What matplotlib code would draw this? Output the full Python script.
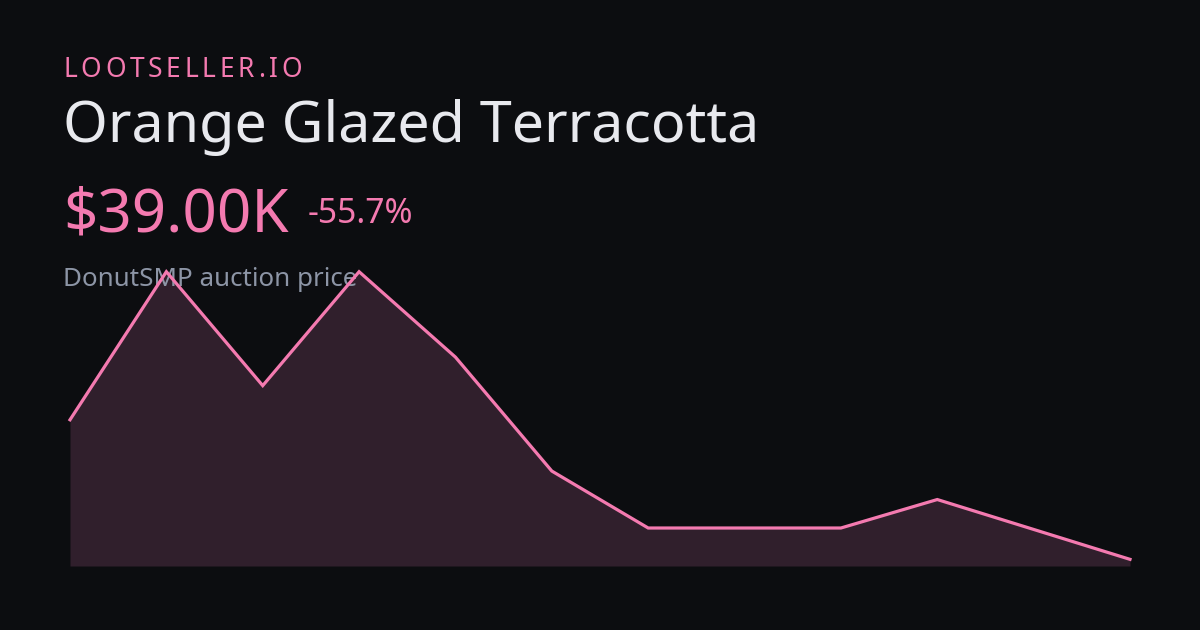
import numpy as np
import matplotlib.pyplot as plt

# price history (thousands)
days = list(range(12))
prices = [88.0, 140.0, 100.0, 140.0, 110.0, 70.0, 50.0, 50.0, 50.0, 60.0, 49.5, 39.0]

brand = "LOOTSELLER.IO"
item = "Orange Glazed Terracotta"
price_txt = "$39.00K"
change_txt = "-55.7%"
subtitle = "DonutSMP auction price"

W, H = 1200, 630
BG = "#0c0d10"
PINK = "#f47ab0"
FILL = "#301f2c"
TITLE_C = "#e8e9ee"
SUB_C = "#8d95a6"

plt.rcParams['font.family'] = ['Noto Sans', 'DejaVu Sans']

fig = plt.figure(figsize=(W / 100, H / 100), dpi=100, facecolor=BG)
ax = fig.add_axes([70 / W, 64 / H, 1060 / W, 294.3 / H])
ax.set_facecolor(BG)
ax.axis('off')

ymin = min(prices) * 0.94
ax.set_xlim(days[0], days[-1])
ax.set_ylim(ymin, max(prices))
ax.fill_between(days, prices, ymin, color=FILL, lw=0, zorder=1)
ax.plot(days, prices, color=PINK, lw=2.3, zorder=3, clip_on=False,
        solid_joinstyle='miter')

fig.canvas.draw()
renderer = fig.canvas.get_renderer()


def place(s, x_px, base_px, width_px, color, size0):
    # put text at pixel position, then scale size so it spans width_px
    t = ax.text(x_px / W, 1 - base_px / H, s, transform=fig.transFigure,
                color=color, fontsize=size0, va='baseline', ha='left',
                zorder=2, clip_on=False)
    bb = t.get_window_extent(renderer)
    t.set_fontsize(size0 * width_px / bb.width)
    return t


place(item, 63, 141.7, 698, TITLE_C, 42)
place(price_txt, 63, 231.7, 225, PINK, 42)
place(change_txt, 308, 222.7, 106, PINK, 23)
place(subtitle, 63, 286, 294, SUB_C, 19)

# letter-spaced brand label
size = 19
chars = []
widths = []
for c in brand:
    t = ax.text(0, 1 - 77.3 / H, c, transform=fig.transFigure, color=PINK,
                fontsize=size, va='baseline', ha='left', zorder=2, clip_on=False)
    chars.append(t)
    widths.append(t.get_window_extent(renderer).width)
gap = (239 - sum(widths)) / (len(brand) - 1)
x = 63
for t, w in zip(chars, widths):
    t.set_x(x / W)
    x += w + gap

fig.savefig("out.png", dpi=100, facecolor=BG)
